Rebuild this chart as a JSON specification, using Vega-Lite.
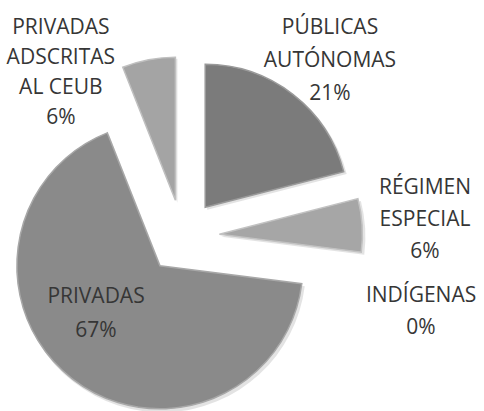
{
  "$schema": "https://vega.github.io/schema/vega-lite/v6.json",
  "width": 484,
  "height": 411,
  "autosize": {"type": "none"},
  "padding": 0,
  "background": "white",
  "view": {"stroke": null},
  "data": {
    "values": [
      {"name": "PUBLICAS", "label": "PÚBLICAS\nAUTÓNOMAS\n21%", "value": 21, "order": 1},
      {"name": "REGIMEN", "label": "RÉGIMEN\nESPECIAL\n6%", "value": 6, "order": 2},
      {"name": "INDIGENAS", "label": "INDÍGENAS\n0%", "value": 0, "order": 3},
      {"name": "PRIVADAS", "label": "PRIVADAS\n67%", "value": 67, "order": 4},
      {"name": "ADSCRITAS", "label": "PRIVADAS\nADSCRITAS\nAL CEUB\n6%", "value": 6, "order": 5}
    ]
  },
  "transform": [
    {"stack": "value", "groupby": [], "sort": [{"field": "order"}], "as": ["start", "end"]},
    {"calculate": "(datum.start + datum.end) / 2", "as": "mid"}
  ],
  "encoding": {
    "theta": {"field": "start", "type": "quantitative", "scale": {"domain": [0, 100], "range": [0, 6.283185307]}}
  },
  "layer": [
    {
      "transform": [{"filter": "datum.name === 'PUBLICAS'"}],
      "mark": {"type": "arc", "radius": 144, "xOffset": -34.8, "yOffset": 4.3, "fill": "#dcdcdc", "opacity": 0.8},
      "encoding": {"theta2": {"field": "end"}}
    },
    {
      "transform": [{"filter": "datum.name === 'REGIMEN'"}],
      "mark": {"type": "arc", "radius": 144, "xOffset": -20.6, "yOffset": 31.2, "fill": "#dcdcdc", "opacity": 0.8},
      "encoding": {"theta2": {"field": "end"}}
    },
    {
      "transform": [{"filter": "datum.name === 'PRIVADAS'"}],
      "mark": {"type": "arc", "radius": 144, "xOffset": -80.1, "yOffset": 62.8, "fill": "#dcdcdc", "opacity": 0.8},
      "encoding": {"theta2": {"field": "end"}}
    },
    {
      "transform": [{"filter": "datum.name === 'ADSCRITAS'"}],
      "mark": {"type": "arc", "radius": 144, "xOffset": -64.6, "yOffset": -2.8, "fill": "#dcdcdc", "opacity": 0.8},
      "encoding": {"theta2": {"field": "end"}}
    },
    {
      "transform": [{"filter": "datum.name === 'PUBLICAS'"}],
      "mark": {"type": "arc", "radius": 143, "xOffset": -36.8, "yOffset": 1.8, "fill": "#7b7b7b", "stroke": "#9a9a9a", "strokeWidth": 1.5},
      "encoding": {"theta2": {"field": "end"}}
    },
    {
      "transform": [{"filter": "datum.name === 'REGIMEN'"}],
      "mark": {"type": "arc", "radius": 143, "xOffset": -22.6, "yOffset": 28.7, "fill": "#a6a6a6", "stroke": "#c2c2c2", "strokeWidth": 1.5},
      "encoding": {"theta2": {"field": "end"}}
    },
    {
      "transform": [{"filter": "datum.name === 'PRIVADAS'"}],
      "mark": {"type": "arc", "radius": 143, "xOffset": -82.1, "yOffset": 60.3, "fill": "#8a8a8a", "stroke": "#a8a8a8", "strokeWidth": 1.5},
      "encoding": {"theta2": {"field": "end"}}
    },
    {
      "transform": [{"filter": "datum.name === 'ADSCRITAS'"}],
      "mark": {"type": "arc", "radius": 143, "xOffset": -66.6, "yOffset": -5.3, "fill": "#a4a4a4", "stroke": "#c0c0c0", "strokeWidth": 1.5},
      "encoding": {"theta2": {"field": "end"}}
    },
    {
      "transform": [{"filter": "datum.name === 'PUBLICAS'"}],
      "mark": {"type": "text", "radius": 230, "xOffset": -53, "yOffset": 4, "font": "Open Sans", "fontSize": 21, "lineHeight": 33, "lineBreak": "\n", "color": "#363636", "baseline": "middle", "align": "center"},
      "encoding": {"theta": {"field": "mid", "type": "quantitative"}, "text": {"field": "label"}}
    },
    {
      "transform": [{"filter": "datum.name === 'REGIMEN'"}],
      "mark": {"type": "text", "radius": 243, "xOffset": -59.5, "yOffset": -2, "font": "Open Sans", "fontSize": 21, "lineHeight": 32, "lineBreak": "\n", "color": "#363636", "baseline": "middle", "align": "center"},
      "encoding": {"theta": {"field": "mid", "type": "quantitative"}, "text": {"field": "label"}}
    },
    {
      "transform": [{"filter": "datum.name === 'INDIGENAS'"}],
      "mark": {"type": "text", "radius": 249, "xOffset": -68, "yOffset": 59.5, "font": "Open Sans", "fontSize": 21, "lineHeight": 32, "lineBreak": "\n", "color": "#363636", "baseline": "middle", "align": "center"},
      "encoding": {"theta": {"field": "mid", "type": "quantitative"}, "text": {"field": "label"}}
    },
    {
      "transform": [{"filter": "datum.name === 'PRIVADAS'"}],
      "mark": {"type": "text", "radius": 115, "xOffset": -75.5, "yOffset": 1, "font": "Open Sans", "fontSize": 21, "lineHeight": 34, "lineBreak": "\n", "color": "#363636", "baseline": "middle", "align": "center"},
      "encoding": {"theta": {"field": "mid", "type": "quantitative"}, "text": {"field": "label"}}
    },
    {
      "transform": [{"filter": "datum.name === 'ADSCRITAS'"}],
      "mark": {"type": "text", "radius": 209, "xOffset": -142, "yOffset": 28.2, "font": "Open Sans", "fontSize": 21, "lineHeight": 30, "lineBreak": "\n", "color": "#363636", "baseline": "middle", "align": "center"},
      "encoding": {"theta": {"field": "mid", "type": "quantitative"}, "text": {"field": "label"}}
    }
  ]
}
